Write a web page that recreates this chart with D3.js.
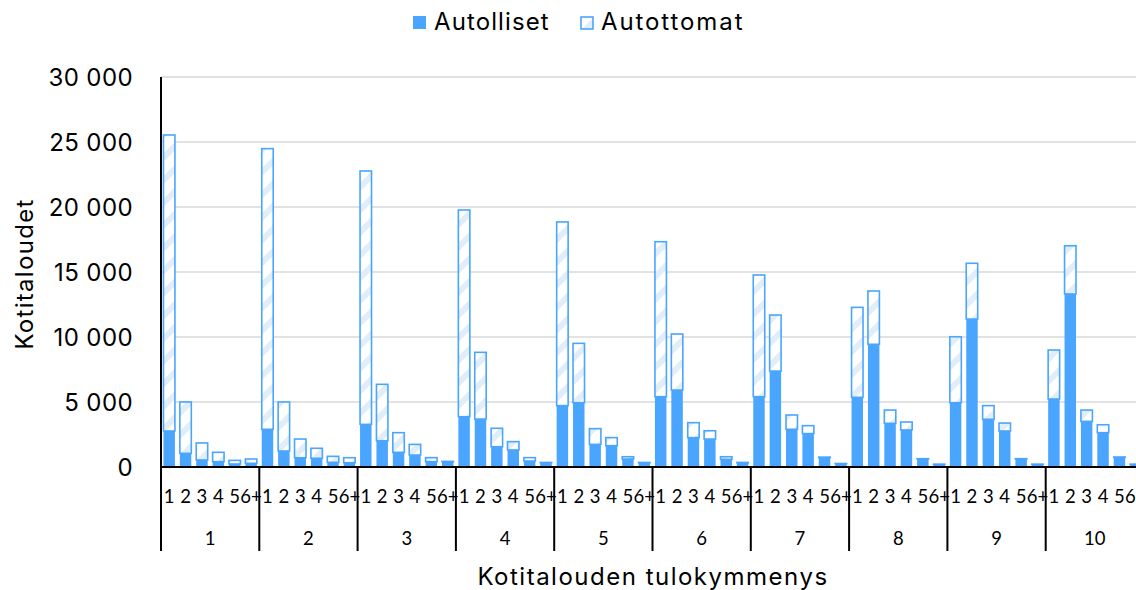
<!DOCTYPE html>
<html><head><meta charset="utf-8">
<script src="https://cdn.jsdelivr.net/npm/d3@7"></script>
<style>
html,body{margin:0;padding:0;background:#fff;overflow:hidden;}
svg{display:block;}
</style></head>
<body>
<script>
const groups = ["1","2","3","4","5","6","7","8","9","10"];
const sizes = ["1","2","3","4","5","6+"];
const seriesNames = ["Autolliset","Autottomat"];
const autolliset = [
  [2770,1050,540,410,230,280],
  [2900,1230,715,670,360,330],
  [3280,2020,1130,920,410,410],
  [3870,3690,1560,1310,460,330],
  [4720,4950,1740,1640,615,330],
  [5410,5920,2260,2150,590,330],
  [5410,7380,2900,2570,720,250],
  [5360,9440,3360,2850,615,200],
  [4950,11380,3670,2770,615,200],
  [5230,13310,3510,2640,745,200]
];
const autottomat = [
  [22770,3950,1310,720,280,335],
  [21590,3770,1435,770,460,385],
  [19490,4340,1510,820,310,20],
  [15900,5130,1420,640,260,20],
  [14130,4560,1210,620,175,20],
  [11920,4310,1150,640,200,20],
  [9360,4310,1100,610,40,20],
  [6920,4100,1020,610,25,20],
  [5070,4290,1050,610,25,20],
  [3770,3710,870,610,25,20]
];
const yTicks = [0,5000,10000,15000,20000,25000,30000];

(function(){
const W = 1136, H = 590;
const blue = "#4AA5FF";
const font = "Inter, 'Open Sans', sans-serif";
const svg = d3.select("body").append("svg").attr("width",W).attr("height",H);

const defs = svg.append("defs");
const pat = defs.append("pattern").attr("id","hatch").attr("patternUnits","userSpaceOnUse")
  .attr("width",16).attr("height",16).attr("patternTransform","rotate(45)");
pat.append("rect").attr("width",16).attr("height",16).attr("fill","#ffffff");
pat.append("rect").attr("x",0).attr("width",6).attr("height",16).attr("fill","#e1edf9");

const pL = 161, pR = 1144, pT = 77, pB = 467;
const x0 = d3.scaleBand().domain(groups).range([pL,pR]).padding(0);
const x1 = d3.scaleBand().domain(sizes).range([0,x0.bandwidth()]).paddingInner(0.3).paddingOuter(0.15);
const y = d3.scaleLinear().domain([0,30000]).range([pB,pT]);

const fmt = d3.formatLocale({decimal:",",thousands:"\u00a0",grouping:[3],currency:["","€"]}).format(",d");

// gridlines
svg.append("g").selectAll("line").data(yTicks.filter(d=>d>0)).join("line")
  .attr("x1",pL).attr("x2",W).attr("y1",d=>y(d)).attr("y2",d=>y(d))
  .attr("stroke","#d9d9d9").attr("stroke-width",1.5);

// y tick labels
svg.append("g").selectAll("text").data(yTicks).join("text")
  .attr("x",133).attr("y",d=>y(d)).attr("dy","0.36em").attr("text-anchor","end")
  .attr("font-family",font).attr("font-size",24).attr("letter-spacing",0.4).attr("fill","#000")
  .text(d=>fmt(d));

// bars
const data = [];
groups.forEach((g,gi)=>sizes.forEach((s,si)=>{
  data.push({g,s,a:autolliset[gi][si],b:autottomat[gi][si]});
}));
const bars = svg.append("g");
bars.selectAll("rect.a").data(data).join("rect").attr("class","a")
  .attr("x",d=>x0(d.g)+x1(d.s)).attr("width",x1.bandwidth())
  .attr("y",d=>y(d.a)).attr("height",d=>y(0)-y(d.a))
  .attr("fill",blue);
bars.selectAll("rect.b").data(data).join("rect").attr("class","b")
  .attr("x",d=>x0(d.g)+x1(d.s)).attr("width",x1.bandwidth())
  .attr("y",d=>y(d.a+d.b)).attr("height",d=>y(d.a)-y(d.a+d.b))
  .attr("fill","url(#hatch)").attr("stroke",blue).attr("stroke-width",1.6);

// axes lines
svg.append("line").attr("x1",pL).attr("x2",pL).attr("y1",pT).attr("y2",551)
  .attr("stroke","#000").attr("stroke-width",2);
svg.append("line").attr("x1",pL).attr("x2",W).attr("y1",pB).attr("y2",pB)
  .attr("stroke","#000").attr("stroke-width",2);
svg.append("g").selectAll("line").data(groups).join("line")
  .attr("x1",d=>x0(d)+x0.bandwidth()).attr("x2",d=>x0(d)+x0.bandwidth())
  .attr("y1",pB).attr("y2",551).attr("stroke","#000").attr("stroke-width",2);

// inner labels
const inner = [];
groups.forEach(g=>sizes.forEach(s=>inner.push({g,s})));
svg.append("g").selectAll("text").data(inner).join("text")
  .attr("x",d=>x0(d.g)+x1(d.s)+x1.bandwidth()/2).attr("y",503)
  .attr("text-anchor","middle").attr("font-family","Lato, 'Open Sans', sans-serif")
  .attr("font-size",18.5).attr("fill","#000").text(d=>d.s);

// group labels
svg.append("g").selectAll("text").data(groups).join("text")
  .attr("x",d=>x0(d)+x0.bandwidth()/2).attr("y",545)
  .attr("text-anchor","middle").attr("font-family","Lato, 'Open Sans', sans-serif")
  .attr("font-size",18.5).attr("fill","#000").text(d=>d);

// axis titles
svg.append("text").attr("x",653).attr("y",585).attr("text-anchor","middle")
  .attr("font-family",font).attr("font-size",24).attr("letter-spacing",1.5).attr("fill","#000")
  .text("Kotitalouden tulokymmenys");
svg.append("text").attr("transform","translate(33,274) rotate(-90)").attr("text-anchor","middle")
  .attr("font-family",font).attr("font-size",24).attr("letter-spacing",1.3).attr("fill","#000")
  .text("Kotitaloudet");

// legend
const leg = svg.append("g");
const legX = [413, 580];
const legLS = [1.1, 1.9];
seriesNames.forEach((n,i)=>{
  leg.append("rect").attr("x",legX[i]+(i?1:0)).attr("y",16+(i?1:0)).attr("width",i?12:13).attr("height",i?12:13)
    .attr("fill",i?"url(#hatch)":blue).attr("stroke",i?blue:"none").attr("stroke-width",1.6);
  leg.append("text").attr("x",legX[i]+21).attr("y",29.5)
    .attr("font-family",font).attr("font-size",24).attr("letter-spacing",legLS[i]).attr("fill","#000")
    .text(n);
});
})();
</script>
</body></html>
